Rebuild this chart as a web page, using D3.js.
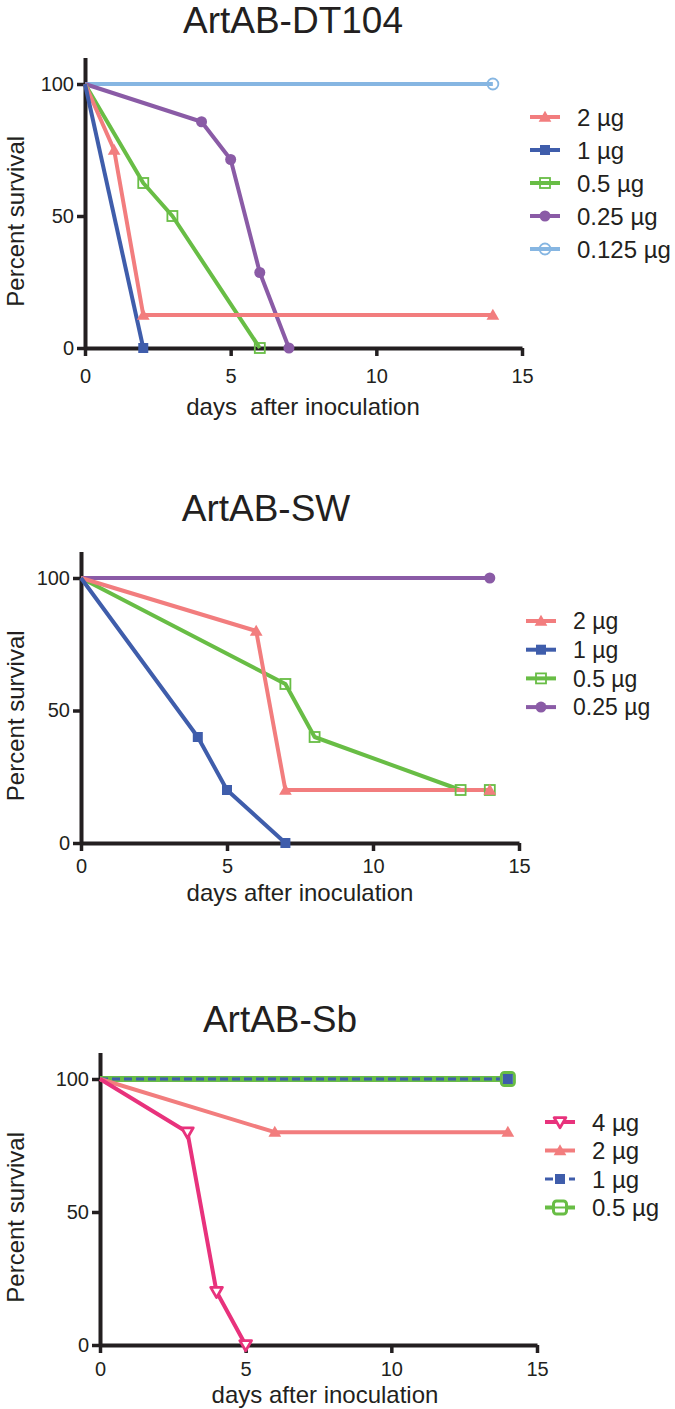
<!DOCTYPE html>
<html><head><meta charset="utf-8">
<script src="https://cdn.jsdelivr.net/npm/d3@7"></script>
<style>
body{margin:0;background:#fff}
svg{display:block}
text{font-family:"Liberation Sans",Arial,Helvetica,sans-serif;fill:#231f20}
</style>
</head><body><svg id="c" width="675" height="1409"></svg>
<script>
// ---------- data ----------
const xTicks = [0, 5, 10, 15];
const yTicks = [0, 50, 100];
const panelTitles = ["ArtAB-DT104", "ArtAB-SW", "ArtAB-Sb"];
const xLabels = ["days  after inoculation", "days after inoculation", "days after inoculation"];
const yLabel = "Percent survival";

const dt104Labels = ["2 µg", "1 µg", "0.5 µg", "0.25 µg", "0.125 µg"];
const dt104Days = [[0, 1, 2, 14], [0, 2], [0, 2, 3, 6], [0, 4, 5, 6, 7], [0, 14]];
const dt104Survival = [[100, 75, 12.5, 12.5], [100, 0], [100, 62.5, 50, 0], [100, 85.7, 71.4, 28.6, 0], [100, 100]];

const swLabels = ["2 µg", "1 µg", "0.5 µg", "0.25 µg"];
const swDays = [[0, 6, 7, 14], [0, 4, 5, 7], [0, 7, 8, 13, 14], [0, 14]];
const swSurvival = [[100, 80, 20, 20], [100, 40, 20, 0], [100, 60, 40, 20, 20], [100, 100]];

const sbLabels = ["4 µg", "2 µg", "1 µg", "0.5 µg"];
const sbDays = [[0, 3, 4, 5], [0, 6, 14], [0, 14], [0, 14]];
const sbSurvival = [[100, 80, 20, 0], [100, 80, 80], [100, 100], [100, 100]];

// ---------- styles ----------
const C = {salmon:"#f27d7e", blue:"#3f5dab", green:"#68bd45", purple:"#8a5ba6", sky:"#86b6e2", magenta:"#e8327c"};
const st = {
  "2":     {color:C.salmon, marker:"triUp"},
  "1":     {color:C.blue, marker:"square"},
  "0.5":   {color:C.green, marker:"squareOpen"},
  "0.25":  {color:C.purple, marker:"circle"},
  "0.125": {color:C.sky, marker:"circleOpen"},
  "4":     {color:C.magenta, marker:"triDownOpen"}
};
function styleOf(label){ return st[label.split(" ")[0]]; }

const panels = [
  {labels:dt104Labels, days:dt104Days, surv:dt104Survival, x0:85, x1:522, y0:348, y100:84,
   titleX:293, titleY:33, xlabX:303, xlabY:415, tickPad:13, legX:530, legY:117, legDy:33, legFont:24, order:[4,3,2,0,1]},
  {labels:swLabels, days:swDays, surv:swSurvival, x0:81, x1:519, y0:843, y100:578,
   titleX:266, titleY:521, xlabX:300, xlabY:901, tickPad:8, legX:526, legY:621, legDy:28.7, legFont:23, order:[3,2,0,1]},
  {labels:sbLabels, days:sbDays, surv:sbSurvival, x0:100, x1:537, y0:1345, y100:1079,
   titleX:280, titleY:1032, xlabX:325, xlabY:1403, tickPad:9, legX:545, legY:1122, legDy:28.5, legFont:24, order:[3,2,1,0], sb:true}
];

const svg = d3.select("#c");

function drawMarker(g, type, color, cx, cy, opts={}) {
  const sym = d3.symbol();
  if (type === "triUp") {
    g.append("path").attr("d", sym.type(d3.symbolTriangle).size(70)())
      .attr("transform", `translate(${cx},${cy+1})`).attr("fill", color);
  } else if (type === "triDownOpen") {
    g.append("path").attr("d", sym.type(d3.symbolTriangle).size(60)())
      .attr("transform", `translate(${cx},${cy-1}) rotate(180)`)
      .attr("fill", "#fff").attr("stroke", color).attr("stroke-width", 2.8).attr("stroke-linejoin","round");
  } else if (type === "square") {
    const s = opts.size || 10;
    g.append("rect").attr("x", cx - s/2).attr("y", cy - s/2).attr("width", s).attr("height", s).attr("fill", color);
  } else if (type === "squareOpen") {
    const s = opts.size || 10;
    g.append("rect").attr("x", cx - s/2).attr("y", cy - s/2).attr("width", s).attr("height", s)
      .attr("rx", opts.rx || 0).attr("fill", opts.fill || "none").attr("stroke", color).attr("stroke-width", opts.sw || 1.8);
  } else if (type === "circle") {
    g.append("circle").attr("cx", cx).attr("cy", cy).attr("r", 5.5).attr("fill", color);
  } else if (type === "circleOpen") {
    g.append("circle").attr("cx", cx).attr("cy", cy).attr("r", 5.5).attr("fill", "none").attr("stroke", color).attr("stroke-width", 1.8);
  }
}

panels.forEach((p, pi) => {
  const x = d3.scaleLinear().domain([0, 15]).range([p.x0, p.x1]);
  const unit = (p.y0 - p.y100) / 100;
  const y = d3.scaleLinear().domain([0, 110]).range([p.y0, p.y0 - unit * 110]);
  const g = svg.append("g");

  // title
  g.append("text").attr("x", p.titleX).attr("y", p.titleY).attr("text-anchor", "middle")
    .attr("font-size", 37).text(panelTitles[pi]);

  // axes
  const yAxis = d3.axisLeft(y).tickValues(yTicks).tickSize(8).tickSizeOuter(0).tickPadding(3);
  const xAxis = d3.axisBottom(x).tickValues(xTicks).tickSize(8).tickSizeOuter(0).tickPadding(p.tickPad);
  const ya = g.append("g").attr("transform", `translate(${p.x0},0)`).call(yAxis);
  const xa = g.append("g").attr("transform", `translate(0,${p.y0})`).call(xAxis);
  [ya, xa].forEach(a => {
    a.select(".domain").attr("stroke", "#231f20").attr("stroke-width", 4);
    a.selectAll(".tick line").attr("stroke", "#231f20").attr("stroke-width", 3.5);
    a.selectAll(".tick text").attr("font-size", 20).attr("fill", "#231f20")
      .attr("font-family", '"Liberation Sans",Arial,sans-serif');
  });
  g.append("line").attr("x1", p.x0).attr("x2", p.x0).attr("y1", p.y0).attr("y2", p.y0 + 2)
    .attr("stroke", "#231f20").attr("stroke-width", 4);

  // axis labels
  g.append("text").attr("x", p.xlabX).attr("y", p.xlabY).attr("text-anchor", "middle")
    .attr("font-size", 24).style("white-space", "pre").text(xLabels[pi]);
  g.append("text").attr("transform", `translate(24,${y(48)}) rotate(-90)`)
    .attr("text-anchor", "middle").attr("font-size", 24).text(yLabel);

  const line = d3.line().x(d => x(d[0])).y(d => y(d[1]));

  // lines
  p.order.forEach(i => {
    const s = styleOf(p.labels[i]);
    const pts = p.days[i].map((d, k) => [d, p.surv[i][k]]);
    let w = 4, dash = null;
    if (p.sb && p.labels[i] === "1 µg") { w = 3; dash = "8,4"; }
    if (p.sb && p.labels[i] === "0.5 µg") { w = 6; }
    g.append("path").datum(pts).attr("d", line).attr("fill", "none").attr("stroke", s.color)
      .attr("stroke-width", w).attr("stroke-linejoin", "round").attr("stroke-dasharray", dash);
  });
  // markers
  p.order.forEach(i => {
    const s = styleOf(p.labels[i]);
    p.days[i].forEach((d, k) => {
      if (d === 0) return;
      if (p.sb && p.labels[i] === "0.5 µg") {
        drawMarker(g, "squareOpen", s.color, x(d), y(p.surv[i][k]), {size: 13, rx: 3, sw: 3, fill: "#fff"});
      } else if (p.sb && p.labels[i] === "1 µg") {
        drawMarker(g, "square", s.color, x(d), y(p.surv[i][k]), {size: 10});
      } else {
        drawMarker(g, s.marker, s.color, x(d), y(p.surv[i][k]));
      }
    });
  });

  // legend
  p.labels.forEach((lab, i) => {
    const s = styleOf(lab);
    const ly = p.legY + i * p.legDy;
    const lg = g.append("g");
    let w = 4, dash = null;
    if (p.sb && lab === "1 µg") { w = 3; dash = "8,4"; }
    lg.append("line").attr("x1", p.legX).attr("x2", p.legX + 30).attr("y1", ly).attr("y2", ly)
      .attr("stroke", s.color).attr("stroke-width", w).attr("stroke-dasharray", dash);
    if (p.sb && lab === "0.5 µg") {
      drawMarker(lg, "squareOpen", s.color, p.legX + 15, ly, {size: 13, rx: 3, sw: 3, fill: "#fff"});
      lg.append("line").attr("x1", p.legX + 10).attr("x2", p.legX + 20).attr("y1", ly).attr("y2", ly)
        .attr("stroke", s.color).attr("stroke-width", 2);
    } else {
      drawMarker(lg, s.marker, s.color, p.legX + 15, ly);
    }
    lg.append("text").attr("x", p.legX + 47).attr("y", ly).attr("dy", "0.36em")
      .attr("font-size", p.legFont).text(lab);
  });
});
</script>
</body></html>
